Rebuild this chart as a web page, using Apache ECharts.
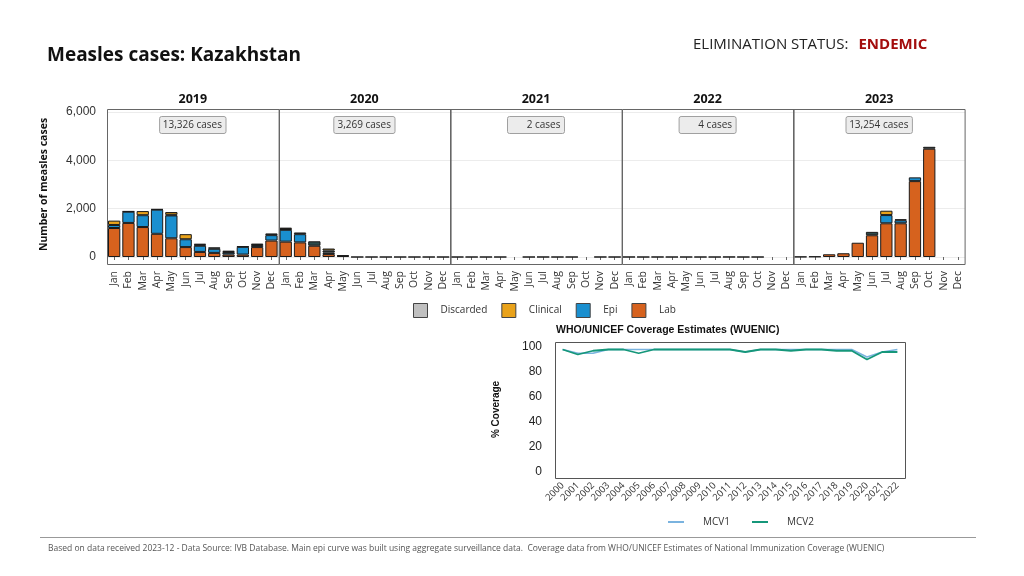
<!DOCTYPE html>
<html>
<head>
<meta charset="utf-8">
<script src="https://cdn.jsdelivr.net/npm/echarts@6/dist/echarts.min.js"></script>
<style>
html,body{margin:0;padding:0;background:#fff;}
#chart{width:1024px;height:576px;}
</style>
</head>
<body>
<div id="chart"></div>
<script>
// ---------- DATA ----------
const months = ['Jan','Feb','Mar','Apr','May','Jun','Jul','Aug','Sep','Oct','Nov','Dec'];
const years = ['2019','2020','2021','2022','2023'];
const yearTotals = [13326, 3269, 2, 4, 13254];

// per year, per month (null = not reported)
const labCases = [
  [1200,1410,1240,960,775,410,210,170,100,100,410,680],
  [635,605,465,120,40,0,0,0,0,0,0,0],
  [0,0,0,0,null,0,1,0,0,null,1,0],
  [1,0,1,0,0,0,0,2,0,0,null,null],
  [10,20,113,155,590,900,1395,1395,3140,4480,null,null]
];
const epiCases = [
  [125,465,490,1000,945,325,255,170,80,320,85,225],
  [490,340,0,70,0,0,0,0,0,0,0,0],
  [0,0,0,0,null,0,0,0,0,null,0,0],
  [0,0,0,0,0,0,0,0,0,0,null,null],
  [0,0,0,0,0,0,340,125,155,0,null,null]
];
const pendingCases = [
  [0,20,0,20,30,0,40,60,30,20,60,70],
  [30,70,185,80,30,0,0,0,0,0,0,0],
  [0,0,0,0,null,0,0,0,0,null,0,0],
  [0,0,0,0,0,0,0,0,0,0,null,null],
  [0,0,0,0,0,140,0,40,0,80,null,null]
];
const clinicalCases = [
  [180,0,170,0,110,210,40,0,50,0,0,0],
  [60,0,0,80,0,0,0,0,0,0,0,0],
  [0,0,0,0,null,0,0,0,0,null,0,0],
  [0,0,0,0,0,0,0,0,0,0,null,null],
  [0,0,0,0,0,0,180,0,0,0,null,null]
];

const coverageYears = ['2000','2001','2002','2003','2004','2005','2006','2007','2008','2009','2010','2011','2012','2013','2014','2015','2016','2017','2018','2019','2020','2021','2022'];
const mcv1 = [98,95,95,98,98,98,98,98,98,98,98,98,96,98,98,98,98,98,98,98,92,96,98];
const mcv2 = [98,94,97,98,98,95,98,98,98,98,98,98,96,98,98,97,98,98,97,97,90,96,96];

// ---------- STYLE ----------
const FONT = "'Open Sans', 'DejaVu Sans', sans-serif";
const ARIAL = "'Liberation Sans', Arial, sans-serif";
const C_LAB = '#d6621e', C_EPI = '#1a8fcf', C_CLIN = '#e9a21a', C_DISC = '#c0c0c0', C_PEND = '#2e4a4a';

const plotLeft = 107, plotRight = 965, panelW = (plotRight - plotLeft) / 5;
const gridTop = 112, gridH = 145;

const chart = echarts.init(document.getElementById('chart'), null, {renderer: 'canvas'});

const grids = [], xAxes = [], yAxes = [], series = [], graphics = [], titles = [];
const nz = v => (v === 0 ? '-' : (v === null ? '-' : v));
const nn = v => (v === null ? '-' : v);

years.forEach((yr, i) => {
  const left = plotLeft + i * panelW;
  grids.push({left: left, width: panelW, top: gridTop, height: gridH});
  xAxes.push({
    type: 'category', gridIndex: i, data: months, offset: 8,
    axisLine: {show: false},
    axisTick: {show: true, alignWithLabel: true, length: 3, lineStyle: {color: '#666'}},
    axisLabel: {rotate: 90, fontSize: 10.5, color: '#333', margin: 6, interval: 0, fontFamily: FONT}
  });
  yAxes.push({
    type: 'value', gridIndex: i, min: 0, max: 6000, interval: 2000,
    axisLine: {show: false}, axisTick: {show: false},
    axisLabel: {show: i === 0, fontSize: 12, color: '#333', margin: 11, fontFamily: ARIAL,
      formatter: v => v.toLocaleString('en-US')},
    splitLine: {show: true, lineStyle: {color: '#ececec', width: 1}},
    name: i === 0 ? 'Number of measles cases' : '',
    nameLocation: 'middle', nameGap: 57,
    nameTextStyle: {fontSize: 10.5, fontWeight: 'bold', color: '#111', fontFamily: FONT}
  });
  const common = {type: 'bar', xAxisIndex: i, yAxisIndex: i, stack: 'y' + i, barWidth: '86%',
    emphasis: {disabled: true}};
  series.push(Object.assign({}, common, {name: 'Lab', data: labCases[i].map(nn), itemStyle: {color: C_LAB, borderColor: '#1a1a1a', borderWidth: 1}}));
  series.push(Object.assign({}, common, {name: 'Epi', data: epiCases[i].map(nz), itemStyle: {color: C_EPI, borderColor: '#1a1a1a', borderWidth: 1}}));
  series.push(Object.assign({}, common, {name: 'Pending', data: pendingCases[i].map(nz), itemStyle: {color: C_PEND, borderColor: '#1a1a1a', borderWidth: 1}}));
  series.push(Object.assign({}, common, {name: 'Clinical', data: clinicalCases[i].map(nz), itemStyle: {color: C_CLIN, borderColor: '#1a1a1a', borderWidth: 1}}));
  if (i === 0) {
    series.push(Object.assign({}, common, {name: 'Discarded', data: [], itemStyle: {color: C_DISC, borderColor: '#555', borderWidth: 1}}));
  }
  // panel frame
  graphics.push({type: 'rect', z: 10, silent: true,
    shape: {x: Math.round(left) + 0.5, y: 109.5, width: panelW, height: 155},
    style: {fill: 'none', stroke: '#666', lineWidth: 1}});
  // year label
  titles.push({text: yr, left: left + panelW / 2, top: 93, textAlign: 'center', padding: 0,
    textStyle: {fontSize: 12.5, fontWeight: 'bold', color: '#111', fontFamily: FONT}});
  // cases box
  const label = yearTotals[i].toLocaleString('en-US') + ' cases';
  const bw = Math.max(57, label.length * 5.2 + 4);
  const cx = left + panelW / 2;
  graphics.push({type: 'group', z: 20, silent: true, children: [
    {type: 'rect', shape: {x: cx - bw / 2, y: 116.5, width: bw, height: 17, r: 2},
      style: {fill: '#ececec', stroke: '#a0a0a0', lineWidth: 1}},
    {type: 'text', x: cx + bw / 2 - 4, y: 125.5,
      style: {text: label, font: '10px ' + FONT, fill: '#333', align: 'right', verticalAlign: 'middle',
        textAlign: 'right', textVerticalAlign: 'middle'}}
  ]});
});

// ---------- coverage chart ----------
const cg = 5;
grids.push({left: 555, width: 350, top: 347, height: 125});
xAxes.push({type: 'category', gridIndex: cg, data: coverageYears, offset: 6, boundaryGap: true,
  axisLine: {show: false}, axisTick: {show: false},
  axisLabel: {rotate: 45, fontSize: 9.5, color: '#333', interval: 0, margin: 6, fontFamily: FONT}});
yAxes.push({type: 'value', gridIndex: cg, min: 0, max: 100, interval: 20,
  axisLine: {show: false}, axisTick: {show: false}, splitLine: {show: false},
  axisLabel: {fontSize: 12, color: '#222', margin: 13, fontFamily: ARIAL},
  name: '% Coverage', nameLocation: 'middle', nameGap: 54,
  nameTextStyle: {fontSize: 10, fontWeight: 'bold', color: '#111', fontFamily: ARIAL}});
series.push({type: 'line', name: 'MCV1', xAxisIndex: cg, yAxisIndex: cg, data: mcv1, symbol: 'none',
  lineStyle: {color: '#7ab3df', width: 1.6}, itemStyle: {color: '#7ab3df'}, emphasis: {disabled: true}});
series.push({type: 'line', name: 'MCV2', xAxisIndex: cg, yAxisIndex: cg, data: mcv2, symbol: 'none',
  lineStyle: {color: '#16977a', width: 1.8}, itemStyle: {color: '#16977a'}, emphasis: {disabled: true}});
graphics.push({type: 'rect', z: 10, silent: true, shape: {x: 555.5, y: 342.5, width: 350, height: 136},
  style: {fill: 'none', stroke: '#555', lineWidth: 1}});

// footer rule
graphics.push({type: 'line', silent: true, shape: {x1: 40, y1: 537.5, x2: 976, y2: 537.5},
  style: {stroke: '#999', lineWidth: 1}});

titles.push({text: 'Measles cases: Kazakhstan', left: 47, top: 46, padding: 0,
  textStyle: {fontSize: 19, fontWeight: 'bold', color: '#111', fontFamily: FONT}});
titles.push({text: '{a|ELIMINATION STATUS:}  {b|ENDEMIC}', left: 693, top: 36, padding: 0,
  textStyle: {fontWeight: 'normal', rich: {
    a: {fontSize: 15, fontWeight: 'normal', color: '#222', fontFamily: FONT},
    b: {fontSize: 15, fontWeight: 'bold', color: '#a30d0d', fontFamily: FONT}}}});
titles.push({text: 'WHO/UNICEF Coverage Estimates (WUENIC)', left: 556, top: 325, padding: 0,
  textStyle: {fontSize: 10.5, fontWeight: 'bold', color: '#111', fontFamily: ARIAL}});
titles.push({text: 'Based on data received 2023-12 - Data Source: IVB Database. Main epi curve was built using aggregate surveillance data.  Coverage data from WHO/UNICEF Estimates of National Immunization Coverage (WUENIC)',
  left: 48, top: 544, padding: 0,
  textStyle: {fontSize: 8.5, fontWeight: 'normal', color: '#555', fontFamily: FONT}});

const option = {
  animation: false,
  backgroundColor: '#fff',
  title: titles,
  grid: grids,
  xAxis: xAxes,
  yAxis: yAxes,
  legend: [
    {data: ['Discarded', 'Clinical', 'Epi', 'Lab'], left: 408, top: 298, icon: 'rect',
      itemWidth: 14, itemHeight: 14, itemGap: 14, selectedMode: false,
      itemStyle: {borderColor: '#444', borderWidth: 1},
      textStyle: {fontSize: 10, color: '#333', fontFamily: FONT, padding: [0, 0, 0, 8]}},
    {data: ['MCV1', 'MCV2'], left: 663, top: 512, icon: 'rect',
      itemWidth: 16, itemHeight: 2, itemGap: 22, selectedMode: false,
      textStyle: {fontSize: 10, color: '#333', fontFamily: FONT, padding: [0, 0, 0, 14]}}
  ],
  series: series,
  graphic: graphics
};
chart.setOption(option);
</script>
</body>
</html>
